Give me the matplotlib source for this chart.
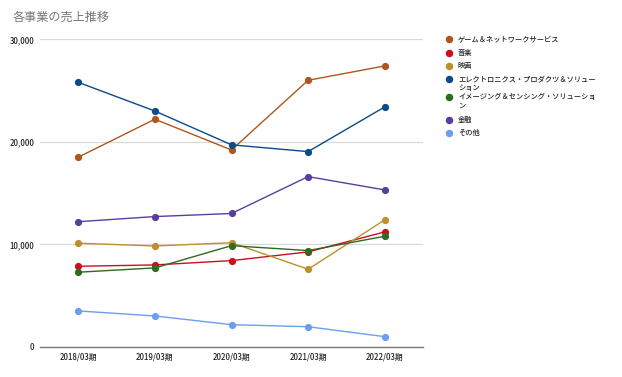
import matplotlib
matplotlib.use("Agg")
import matplotlib.pyplot as plt
from matplotlib.lines import Line2D

plt.rcParams['font.family'] = ['Noto Sans CJK JP', 'DejaVu Sans']

categories = ["2018/03期", "2019/03期", "2020/03期", "2021/03期", "2022/03期"]
series_names = [
    "ゲーム＆ネットワークサービス",
    "音楽",
    "映画",
    "エレクトロニクス・プロダクツ＆ソリュー\nション",
    "イメージング＆センシング・ソリューショ\nン",
    "金融",
    "その他",
]
game = [18500, 22200, 19200, 26000, 27400]
music = [7850, 7980, 8400, 9250, 11200]
movie = [10100, 9830, 10150, 7560, 12370]
electronics = [25800, 23000, 19700, 19040, 23400]
imaging = [7270, 7690, 9860, 9380, 10780]
finance = [12200, 12700, 13000, 16600, 15300]
others = [3490, 3000, 2150, 1950, 980]
series_values = [game, music, movie, electronics, imaging, finance, others]
colors = ["#B0561D", "#CC0F1E", "#BF9028", "#0B4A8B", "#2F6A1E", "#5A3E9E", "#6D9EEB"]
yticks = [0, 10000, 20000, 30000]
ytick_labels = ["0", "10,000", "20,000", "30,000"]

fig = plt.figure(figsize=(6.22, 3.77), dpi=100)
ax = fig.add_axes([40/622, 1-346.7/377, 383/622, (346.7-39.3)/377])

x = list(range(len(categories)))
for vals, c in zip(series_values, colors):
    ax.plot(x, vals, color=c, lw=1.0, marker='o', markersize=5.2,
            markeredgewidth=0, zorder=3)

ax.set_xlim(-0.5, len(categories) - 0.5)
ax.set_ylim(0, 30000)
ax.set_yticks(yticks)
ax.set_yticklabels(ytick_labels)
ax.set_xticks(x)
ax.set_xticklabels(categories)
ax.grid(axis='y', color='#d9d9d9', lw=0.9, zorder=0)
for s in ['top', 'right', 'left']:
    ax.spines[s].set_visible(False)
ax.spines['bottom'].set_color('#777777')
ax.spines['bottom'].set_linewidth(1.0)
ax.tick_params(axis='both', length=0, labelsize=5.6, colors='#222222')
for lbl in ax.get_xticklabels() + ax.get_yticklabels():
    lbl.set_fontweight('medium')
ax.tick_params(axis='y', pad=4)
ax.tick_params(axis='x', pad=4.5)

fig.text(13/622, 1-17/377, "各事業の売上推移", fontsize=8.7, color='#757575',
         va='center', ha='left')

# legend
row_y = [39.3, 53, 66, 78.7, 96.7, 120, 133]
for name, c, yy in zip(series_names, colors, row_y):
    fig.add_artist(Line2D([449/622], [1-yy/377], marker='o', color=c,
                          markersize=5.4, markeredgewidth=0, linestyle='none',
                          transform=fig.transFigure))
    fig.text(458/622, 1-(yy-3.6)/377, name, fontsize=5.2, color='#222222',
             va='top', ha='left', linespacing=1.1, fontweight='medium')

fig.savefig("out.png", dpi=100, facecolor='white')
